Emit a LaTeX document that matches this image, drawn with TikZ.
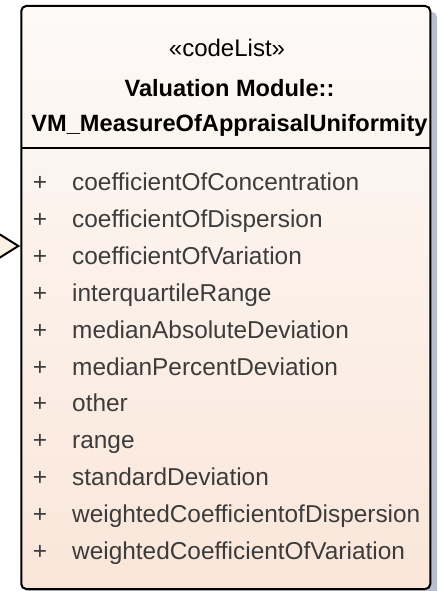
\documentclass[tikz,border=0pt]{standalone}
\usepackage{fontspec}
\setmainfont{Liberation Sans}
\usetikzlibrary{arrows.meta}
\definecolor{umltop}{HTML}{FDFAF8}
\definecolor{umlbot}{HTML}{FAE6D9}
\definecolor{umlshadow}{HTML}{B9BECF}
\definecolor{attrtext}{HTML}{3C3C3C}
\definecolor{tipfill}{HTML}{FBF0E1}
\begin{document}
\begin{tikzpicture}[x=1pt,y=-1pt,
  boxline/.style={line width=2pt, draw=black},
  classbox/.style={boxline, rounded corners=5pt, top color=umltop, bottom color=umlbot,
    minimum width=409pt, minimum height=583pt, inner sep=0pt},
  hdr/.style={inner sep=0pt, font=\fontsize{24}{28}\selectfont, text=black},
  hdrb/.style={inner sep=0pt, font=\fontsize{23.6}{28}\selectfont\bfseries, text=black},
  attr/.style={inner sep=0pt, font=\fontsize{24.4}{29}\selectfont, text=attrtext},
  generalization/.style={boxline, line join=miter,
    -{Triangle[fill=tipfill, length=30pt, width=37pt]}}]
\useasboundingbox (0,0) rectangle (443,591);

% drop shadow behind the class box
\fill[umlshadow, rounded corners=5pt] (26,12) rectangle (437,600);

% the code list class
\node[classbox] (cls) at (225.75,297.5) {};
\coordinate (sepL) at (21.25,148.3);
\coordinate (sepR) at (430.25,148.3);
\draw[boxline] (sepL) -- (sepR);

% header
\node[hdr, anchor=base] (stereo) at (227,56.7) {«codeList»};
\node[hdrb, anchor=base] (pkg) at (229.5,96.5) {Valuation Module::};
\node[hdrb, anchor=base] (name) at (229.5,131.5) {VM\_MeasureOfAppraisalUniformity};

% enumeration literals
\foreach \lit [count=\i from 0] in {coefficientOfConcentration, coefficientOfDispersion,
  coefficientOfVariation, interquartileRange, medianAbsoluteDeviation,
  medianPercentDeviation, other, range, standardDeviation,
  weightedCoefficientofDispersion, weightedCoefficientOfVariation} {
  \node[attr, anchor=base] (p\i) at (40,190.5+36.9*\i) {+};
  \node[attr, anchor=base west] (a\i) at (72,190.5+36.9*\i) {\lit};
}

% incoming generalization from the left
\coordinate (src) at (-60,246);
\draw[generalization] (src) -- (cls.west |- src);
\end{tikzpicture}
\end{document}
